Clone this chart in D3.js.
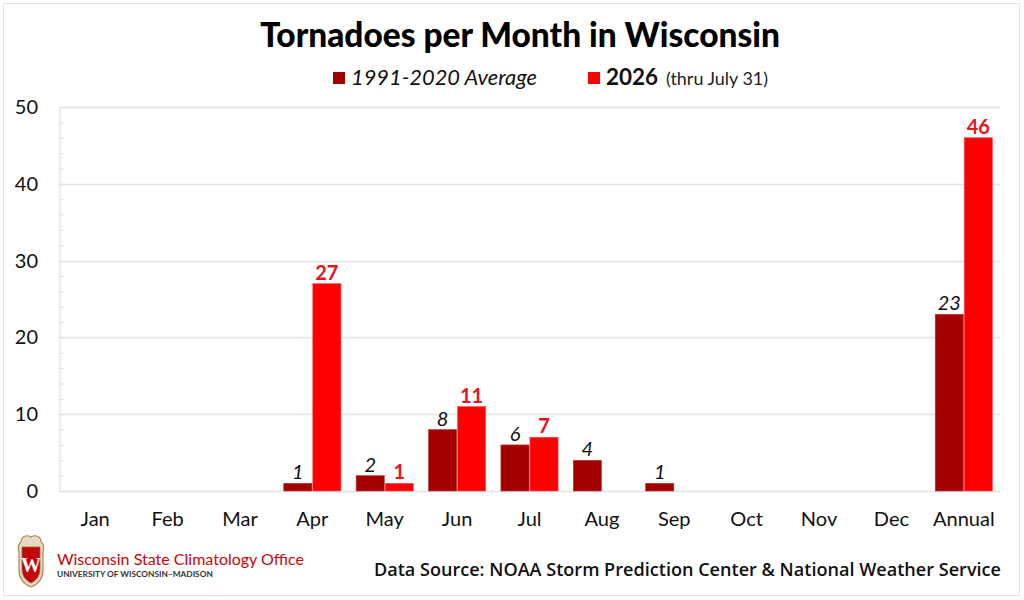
<!DOCTYPE html>
<html>
<head>
<meta charset="utf-8">
<script src="https://cdn.jsdelivr.net/npm/d3@7"></script>
<style>
  html, body { margin: 0; padding: 0; background: #fff; }
  svg { display: block; font-family: Lato, "Open Sans", sans-serif; }
</style>
</head>
<body>
<svg id="chart"></svg>
<script>
// chart values
const months = ['Jan', 'Feb', 'Mar', 'Apr', 'May', 'Jun', 'Jul', 'Aug', 'Sep', 'Oct', 'Nov', 'Dec', 'Annual'];
const avgValues = [0, 0, 0, 1, 2, 8, 6, 4, 1, 0, 0, 0, 23];
const yearValues = [0, 0, 0, 27, 1, 11, 7, 0, 0, 0, 0, 0, 46];
const yTicks = [0, 10, 20, 30, 40, 50];
const seriesKeys = ['avg', 'year'];

const W = 1024, H = 600;
const margin = { top: 107, right: 24, bottom: 109, left: 59 };
const colors = { avg: '#a50000', year: '#ff0000' };

const svg = d3.select('#chart').attr('width', W).attr('height', H);

// scale a text's font size so it spans the given width
function fitWidth(sel, width) {
  let fs = +sel.attr('font-size');
  let len = sel.node().getComputedTextLength();
  if (len > 0) sel.attr('font-size', (fs * width / len).toFixed(2));
  return sel;
}

// light frame round the picture
svg.append('rect')
    .attr('x', 3.5).attr('y', 3.5)
    .attr('width', 1016).attr('height', 592)
    .attr('fill', 'none')
    .attr('stroke', '#e4e4e4');

const rows = months.map((m, i) => ({ month: m, avg: avgValues[i], year: yearValues[i] }));

const x = d3.scaleBand()
    .domain(months)
    .range([margin.left, W - margin.right])
    .paddingInner(0.21)
    .paddingOuter(0.105);

const xSub = d3.scaleBand()
    .domain(seriesKeys)
    .range([0, x.bandwidth()])
    .paddingInner(0.03);

const y = d3.scaleLinear()
    .domain([0, 50])
    .range([H - margin.bottom, margin.top]);

// gridlines
svg.append('g')
    .selectAll('line')
    .data(yTicks)
    .join('line')
    .attr('x1', margin.left).attr('x2', W - margin.right)
    .attr('y1', d => Math.round(y(d)) + 0.5).attr('y2', d => Math.round(y(d)) + 0.5)
    .attr('stroke', '#e3e3e3')
    .attr('stroke-width', 1.5);

// left axis with minor ticks
const yAxis = svg.append('g')
    .attr('transform', `translate(${margin.left + 0.5},0)`)
    .call(d3.axisRight(y).tickValues(d3.range(0, 51, 2)).tickSize(4).tickFormat(''));
yAxis.select('.domain').attr('stroke', '#dcdcdc');
yAxis.selectAll('.tick line').attr('stroke', '#dcdcdc');

// y tick labels
svg.append('g')
    .selectAll('text')
    .data(yTicks)
    .join('text')
    .attr('x', 38)
    .attr('y', d => y(d))
    .attr('dy', '0.35em')
    .attr('text-anchor', 'end')
    .attr('font-size', 20)
    .attr('fill', '#111')
    .text(d => d);

// x labels
svg.append('g')
    .selectAll('text')
    .data(months)
    .join('text')
    .attr('x', d => x(d) + x.bandwidth() / 2)
    .attr('y', 526)
    .attr('text-anchor', 'middle')
    .attr('font-size', 20)
    .attr('fill', '#111')
    .text(d => d);

// bars
const groups = svg.append('g')
    .selectAll('g')
    .data(rows)
    .join('g')
    .attr('transform', d => `translate(${x(d.month)},0)`);

groups.selectAll('rect')
    .data(d => seriesKeys.map(k => ({ key: k, value: d[k] })).filter(v => v.value > 0))
    .join('rect')
    .attr('x', d => xSub(d.key))
    .attr('width', xSub.bandwidth())
    .attr('y', d => y(d.value))
    .attr('height', d => y(0) - y(d.value))
    .attr('fill', d => colors[d.key])
    .attr('stroke', d => d.key === 'avg' ? '#b93a3a' : '#ff5050')
    .attr('stroke-width', 0.6);

// value labels
groups.selectAll('text')
    .data(d => seriesKeys.map(k => ({ key: k, value: d[k] })).filter(v => v.value > 0))
    .join('text')
    .attr('x', d => xSub(d.key) + xSub.bandwidth() / 2)
    .attr('y', d => y(d.value) - 4)
    .attr('text-anchor', 'middle')
    .attr('font-size', 20)
    .attr('font-style', d => d.key === 'avg' ? 'italic' : 'normal')
    .attr('font-weight', d => d.key === 'avg' ? 400 : 700)
    .attr('fill', d => d.key === 'avg' ? '#111' : '#e8141b')
    .text(d => d.value);

// title
const title = svg.append('text')
    .attr('x', 520).attr('y', 47)
    .attr('text-anchor', 'middle')
    .attr('font-size', 31)
    .attr('font-weight', 900)
    .attr('fill', '#000')
    .text('Tornadoes per Month in Wisconsin');
fitWidth(title, 520);

// legend
const legend = svg.append('g');
legend.append('rect').attr('x', 333).attr('y', 72).attr('width', 12).attr('height', 12).attr('fill', colors.avg);
const avgLabel = legend.append('text')
    .attr('x', 351).attr('y', 85)
    .attr('font-size', 21).attr('font-style', 'italic').attr('fill', '#111')
    .text('1991-2020 Average');
fitWidth(avgLabel, 186);
legend.append('rect').attr('x', 588).attr('y', 72).attr('width', 12).attr('height', 12).attr('fill', colors.year);
const yearBold = legend.append('text')
    .attr('x', 606).attr('y', 85)
    .attr('font-size', 21).attr('font-weight', 700).attr('fill', '#111')
    .text('2026');
fitWidth(yearBold, 52);
const yearNote = legend.append('text')
    .attr('x', 666).attr('y', 85)
    .attr('font-size', 17).attr('fill', '#222')
    .text('(thru July 31)');
fitWidth(yearNote, 102);

// footer: source
const source = svg.append('text')
    .attr('x', 1001).attr('y', 576)
    .attr('text-anchor', 'end')
    .attr('font-family', '"Open Sans", sans-serif')
    .attr('font-size', 17)
    .attr('font-weight', 600)
    .attr('fill', '#111')
    .text('Data Source: NOAA Storm Prediction Center & National Weather Service');
fitWidth(source, 627);

// footer: office logo
const logo = svg.append('g').attr('transform', 'translate(18,534)');
logo.append('path')
    .attr('d', 'M3,8 C3,3 8,0 13,3 C18,0 23,3 23,8 C26,10 26,14 25,18 L25,36 C25,46 18,51 13,53 C8,51 1,46 1,36 L1,18 C0,14 0,10 3,8 Z')
    .attr('fill', '#e8d9bf')
    .attr('stroke', '#a68a5b')
    .attr('stroke-width', 1.2);
logo.append('path')
    .attr('d', 'M4,13 L22,13 L22,35 C22,43 17,47 13,49 C9,47 4,43 4,35 Z')
    .attr('fill', '#c5050c')
    .attr('stroke', '#8a6d3b')
    .attr('stroke-width', 0.8);
logo.append('text')
    .attr('x', 13).attr('y', 38)
    .attr('text-anchor', 'middle')
    .attr('font-family', '"Liberation Serif", serif')
    .attr('font-size', 20)
    .attr('font-weight', 700)
    .attr('fill', '#fff')
    .text('W');

const office = svg.append('text')
    .attr('x', 57).attr('y', 565)
    .attr('font-size', 17)
    .attr('fill', '#c5050c')
    .text('Wisconsin State Climatology Office');
fitWidth(office, 247);
const univ = svg.append('text')
    .attr('x', 57).attr('y', 577)
    .attr('font-size', 9.5)
    .attr('font-weight', 700)
    .attr('fill', '#333')
    .text('UNIVERSITY OF WISCONSIN–MADISON');
fitWidth(univ, 156);
</script>
</body>
</html>
